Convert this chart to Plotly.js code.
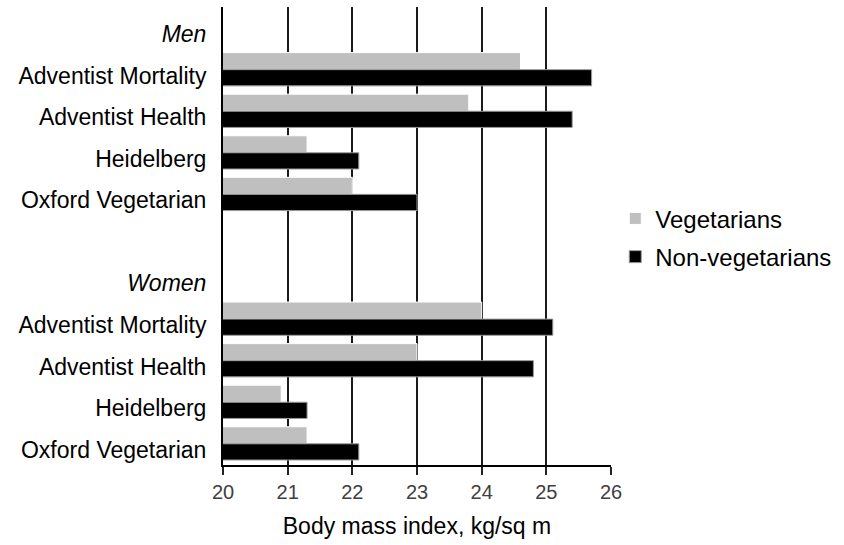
<!DOCTYPE html>
<html>
<head>
<meta charset="utf-8">
<script src="https://cdn.plot.ly/plotly-3.0.1.min.js"></script>
<style>html,body{margin:0;padding:0;background:#fff;}#chart{width:844px;height:545px;}</style>
</head>
<body>
<div id="chart"></div>
<script>
// ---- data ----
const studies = ['Adventist Mortality', 'Adventist Health', 'Heidelberg', 'Oxford Vegetarian'];
const groupLabels = ['Men', 'Women'];
const menVeg = [24.6, 23.8, 21.3, 22.0];
const menNonVeg = [25.7, 25.4, 22.1, 23.0];
const womenVeg = [24.0, 23.0, 20.9, 21.3];
const womenNonVeg = [25.1, 24.8, 21.3, 22.1];
const xTicks = [20, 21, 22, 23, 24, 25, 26];

// ---- row layout: header, studies, blank, header, studies ----
const rowText = [];
const rowPos = [];
const menRows = [], womenRows = [];
let r = 0;
rowText.push('<i>' + groupLabels[0] + '</i>'); rowPos.push(r++);
studies.forEach(s => { rowText.push(s); menRows.push(r); rowPos.push(r++); });
rowText.push(''); rowPos.push(r++);
rowText.push('<i>' + groupLabels[1] + '</i>'); rowPos.push(r++);
studies.forEach(s => { rowText.push(s); womenRows.push(r); rowPos.push(r++); });

const vegX = menVeg.concat(womenVeg);
const nonVegX = menNonVeg.concat(womenNonVeg);
const barY = menRows.concat(womenRows);

const traces = [
  {
    type: 'bar', orientation: 'h', name: 'Vegetarians', legendgroup: 'a',
    x: vegX, y: barY, offset: -0.55, width: 0.41,
    marker: {color: '#bfbfbf', line: {color: '#ffffff', width: 1}},
    hoverinfo: 'x'
  },
  {
    type: 'bar', orientation: 'h', name: 'Non-vegetarians', legendgroup: 'b',
    x: nonVegX, y: barY, offset: -0.14, width: 0.39,
    marker: {color: '#000000', line: {color: '#9a9a9a', width: 1}},
    hoverinfo: 'x'
  }
];

const layout = {
  width: 844, height: 545,
  margin: {l: 223, r: 231, t: 7, b: 80},
  paper_bgcolor: '#ffffff', plot_bgcolor: '#ffffff',
  font: {family: 'Liberation Sans, Arial, sans-serif', color: '#000'},
  showlegend: true,
  legend: {
    x: 1.011, xanchor: 'left', y: 0.496, yanchor: 'middle',
    font: {size: 24, color: '#000'}, traceorder: 'grouped', tracegroupgap: 4,
    bgcolor: 'rgba(0,0,0,0)'
  },
  xaxis: {
    range: [20, 26], tickvals: xTicks, ticktext: xTicks.map(String),
    showgrid: true, gridcolor: '#1a1a1a', gridwidth: 2,
    showline: true, linecolor: '#000', linewidth: 2,
    ticks: 'outside', ticklen: 8, tickwidth: 2, tickcolor: '#222',
    tickfont: {size: 20, color: '#404040'},
    zeroline: false,
    title: {text: 'Body mass index, kg/sq m', font: {size: 23, color: '#000'}, standoff: 16}
  },
  yaxis: {
    range: [10.37, -0.647],
    tickvals: rowPos, ticktext: rowText,
    tickfont: {size: 23, color: '#000'},
    showgrid: false, zeroline: false,
    showline: true, linecolor: '#000', linewidth: 2,
    ticks: '', ticklabelstandoff: 10
  },
  bargap: 0
};

Plotly.newPlot('chart', traces, layout, {displayModeBar: false, staticPlot: true});
</script>
</body>
</html>
